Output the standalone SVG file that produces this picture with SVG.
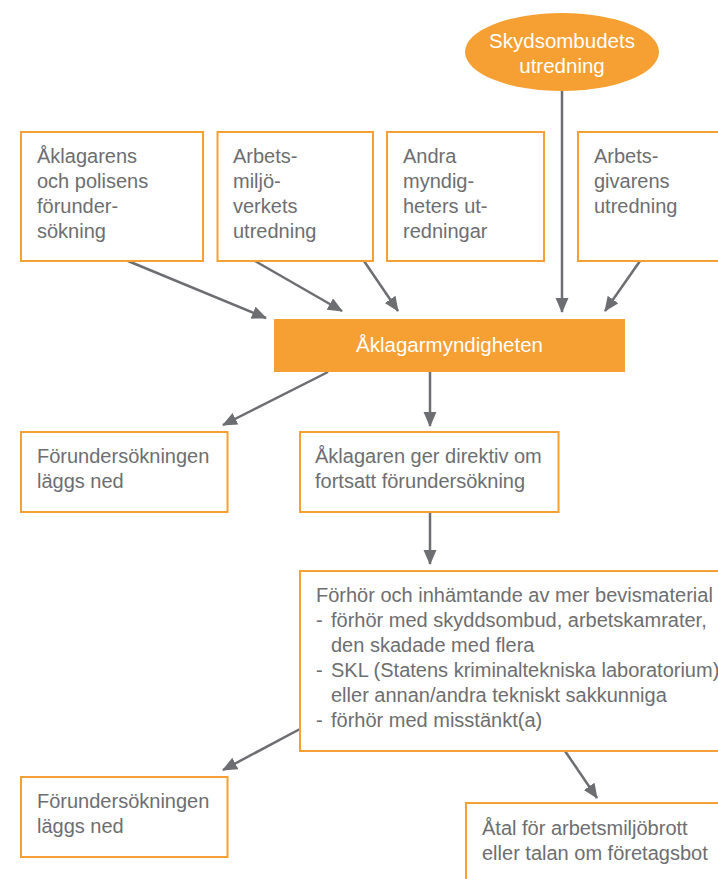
<svg xmlns="http://www.w3.org/2000/svg" width="718" height="879" viewBox="0 0 718 879">
<defs>
<style>
.box{fill:#ffffff;stroke:#F6A033;stroke-width:2}
.fill{fill:#F6A033}
.t{font-family:"Liberation Sans",Arial,sans-serif;font-size:20px;fill:#6D6E71}
.w{font-family:"Liberation Sans",Arial,sans-serif;font-size:20.5px;fill:#ffffff;text-anchor:middle}
.c{stroke:#6D6E71;stroke-width:2.5;fill:none;marker-end:url(#ah)}
</style>
<marker id="ah" markerUnits="userSpaceOnUse" markerWidth="16" markerHeight="14" refX="14" refY="6.5" orient="auto">
<path d="M0,0 L15,6.5 L0,13 z" fill="#6D6E71"/>
</marker>
</defs>
<rect width="718" height="879" fill="#ffffff"/>
<g id="connectors">
<line class="c" x1="128" y1="261" x2="266" y2="318"/>
<line class="c" x1="255" y1="261" x2="342" y2="311"/>
<line class="c" x1="364" y1="261" x2="398" y2="311"/>
<line class="c" x1="562" y1="91" x2="562" y2="312"/>
<line class="c" x1="640" y1="261" x2="605" y2="311"/>
<line class="c" x1="328" y1="372" x2="223" y2="425"/>
<line class="c" x1="430" y1="372" x2="430" y2="426"/>
<line class="c" x1="430" y1="512" x2="430" y2="564"/>
<line class="c" x1="300" y1="729" x2="223" y2="770"/>
<line class="c" x1="565" y1="751" x2="597" y2="798"/>
</g>
<g id="skyddsombud">
<ellipse class="fill" cx="562" cy="52" rx="97" ry="39"/>
<text class="w" x="562" y="48">Skydsombudets</text>
<text class="w" x="562" y="73">utredning</text>
</g>
<g id="aklagarens">
<rect class="box" x="21" y="132" width="182" height="129"/>
<text class="t" x="37" y="163">Åklagarens</text>
<text class="t" x="37" y="188">och polisens</text>
<text class="t" x="37" y="213">förunder-</text>
<text class="t" x="37" y="238">sökning</text>
</g>
<g id="arbetsmiljo">
<rect class="box" x="217.5" y="132" width="155.5" height="129"/>
<text class="t" x="233" y="163">Arbets-</text>
<text class="t" x="233" y="188">miljö-</text>
<text class="t" x="233" y="213">verkets</text>
<text class="t" x="233" y="238">utredning</text>
</g>
<g id="andra">
<rect class="box" x="387" y="132" width="157" height="129"/>
<text class="t" x="403" y="163">Andra</text>
<text class="t" x="403" y="188">myndig-</text>
<text class="t" x="403" y="213">heters ut-</text>
<text class="t" x="403" y="238">redningar</text>
</g>
<g id="arbetsgivarens">
<rect class="box" x="578" y="132" width="150" height="129"/>
<text class="t" x="594" y="163">Arbets-</text>
<text class="t" x="594" y="188">givarens</text>
<text class="t" x="594" y="213">utredning</text>
</g>
<g id="aklagarmyndigheten">
<rect class="fill" x="274" y="319" width="351" height="53"/>
<text class="w" x="449.5" y="352">Åklagarmyndigheten</text>
</g>
<g id="nedlagd1">
<rect class="box" x="21" y="432" width="206.5" height="80"/>
<text class="t" x="37" y="463">Förundersökningen</text>
<text class="t" x="37" y="488">läggs ned</text>
</g>
<g id="direktiv">
<rect class="box" x="300" y="432" width="258.5" height="80"/>
<text class="t" x="315" y="463">Åklagaren ger direktiv om</text>
<text class="t" x="315" y="488">fortsatt förundersökning</text>
</g>
<g id="forhor">
<rect class="box" x="300" y="571" width="430" height="180"/>
<text class="t" x="316" y="602">Förhör och inhämtande av mer bevismaterial</text>
<text class="t" x="316" y="627">-</text>
<text class="t" x="331" y="627">förhör med skyddsombud, arbetskamrater,</text>
<text class="t" x="331" y="652">den skadade med flera</text>
<text class="t" x="316" y="677">-</text>
<text class="t" x="331" y="677">SKL (Statens kriminaltekniska laboratorium)</text>
<text class="t" x="331" y="702">eller annan/andra tekniskt sakkunniga</text>
<text class="t" x="316" y="727">-</text>
<text class="t" x="331" y="727">förhör med misstänkt(a)</text>
</g>
<g id="nedlagd2">
<rect class="box" x="21" y="777" width="206.5" height="80"/>
<text class="t" x="37" y="808">Förundersökningen</text>
<text class="t" x="37" y="833">läggs ned</text>
</g>
<g id="atal">
<rect class="box" x="466" y="803" width="270" height="90"/>
<text class="t" x="482" y="835">Åtal för arbetsmiljöbrott</text>
<text class="t" x="482" y="860">eller talan om företagsbot</text>
</g>
</svg>
